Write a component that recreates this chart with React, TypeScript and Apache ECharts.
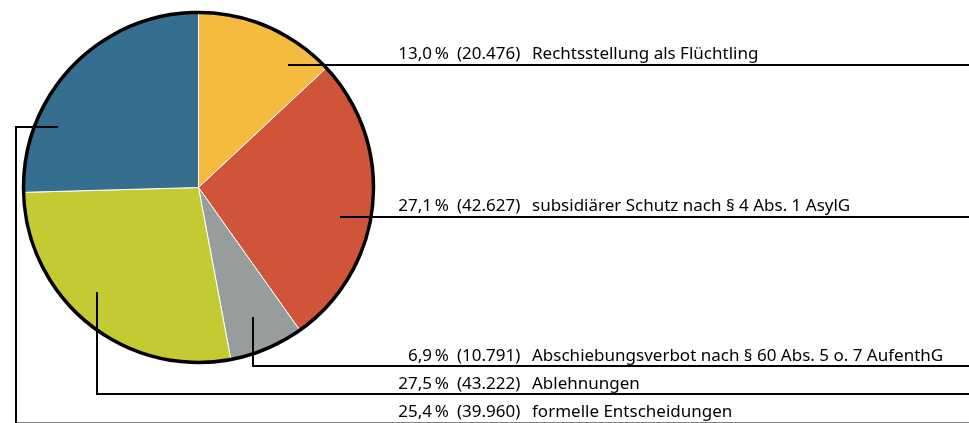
import React, { useEffect, useRef } from "react";
import * as echarts from "echarts";

const categories = [
  "Rechtsstellung als Flüchtling",
  "subsidiärer Schutz nach § 4 Abs. 1 AsylG",
  "Abschiebungsverbot nach § 60 Abs. 5 o. 7 AufenthG",
  "Ablehnungen",
  "formelle Entscheidungen",
];
const counts = [20476, 42627, 10791, 43222, 39960];
const colors = ["#F5BB3F", "#CF543A", "#979C9D", "#C3CA32", "#356E8F"];

// layout
const CX = 198.5;
const CY = 187.5;
const R = 175;
const FONT = "'Noto Sans', sans-serif";
const FS = 17;
// leader polylines (annotation layout)
const leaders: number[][][] = [
  [[288, 65], [969, 65]],
  [[340, 217], [969, 217]],
  [[253, 317], [253, 366], [969, 366]],
  [[97, 292], [97, 394], [969, 394]],
  [[58, 127], [16, 127], [16, 423.5], [969, 423.5]],
];
const textY = [52.5, 204.5, 354, 382, 410];

const fmtCount = (n: number) =>
  String(n).replace(/\B(?=(\d{3})+(?!\d))/g, ".");

export default function App() {
  const ref = useRef<HTMLDivElement>(null);
  useEffect(() => {
    if (!ref.current) return;
    const chart = echarts.init(ref.current, undefined, { renderer: "svg" });
    const total = counts.reduce((a, b) => a + b, 0);
    const graphic: any[] = [];
    leaders.forEach((pts) => {
      graphic.push({
        type: "polyline",
        z: 100,
        shape: { points: pts },
        style: { stroke: "#000", lineWidth: 2, fill: null },
      });
    });
    counts.forEach((c, i) => {
      const pct = ((c / total) * 100).toFixed(1).replace(".", ",") + "\u2009%";
      const base = {
        fontFamily: FONT,
        fontSize: FS,
        fill: "#000",
        verticalAlign: "middle",
      };
      graphic.push(
        {
          type: "text",
          z: 101,
          x: 449,
          y: textY[i],
          style: { ...base, text: pct, align: "right" },
        },
        {
          type: "text",
          z: 101,
          x: 457,
          y: textY[i],
          style: { ...base, text: "(" + fmtCount(c) + ")", align: "left" },
        },
        {
          type: "text",
          z: 101,
          x: 532,
          y: textY[i],
          style: { ...base, text: categories[i], align: "left" },
        }
      );
    });
    graphic.push({
      type: "circle",
      z: 99,
      shape: { cx: CX, cy: CY, r: R },
      style: { stroke: "#000", lineWidth: 3.5, fill: null },
    });
    chart.setOption({
      animation: false,
      series: [
        {
          type: "pie",
          center: [CX, CY],
          radius: R,
          startAngle: 90,
          clockwise: true,
          label: { show: false },
          labelLine: { show: false },
          emphasis: { disabled: true },
          itemStyle: { borderColor: "#fff", borderWidth: 1 },
          data: counts.map((v, i) => ({
            value: v,
            name: categories[i],
            itemStyle: { color: colors[i] },
          })),
        },
      ],
      graphic,
    });
    return () => chart.dispose();
  }, []);
  return (
    <div
      ref={ref}
      style={{ position: "fixed", left: 0, top: 0, width: 969, height: 423 }}
    />
  );
}
